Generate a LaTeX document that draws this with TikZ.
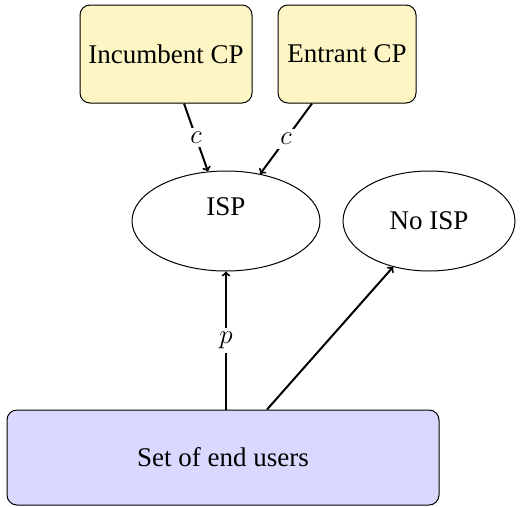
\RequirePackage{fix-cm}
\documentclass[tikz,border=0pt]{standalone}
\usepackage{fontspec}
\setmainfont{Liberation Serif}
\usetikzlibrary{shapes.geometric}
\definecolor{cpfill}{RGB}{253,246,196}
\definecolor{userfill}{RGB}{217,217,255}
\tikzset{
  cpbox/.style={draw, line width=1pt, fill=cpfill, rounded corners=10pt, inner sep=0pt, minimum height=98pt},
  userbox/.style={draw, line width=1pt, fill=userfill, rounded corners=10pt, inner sep=0pt, minimum width=432pt, minimum height=95pt},
  ell/.style={draw, line width=1pt, ellipse, inner sep=0pt},
  arr/.style={->, line width=2pt},
  lab/.style={fill=white, inner sep=4pt}
}
\begin{document}
\begin{tikzpicture}[x=1pt, y=-1pt, font=\fontsize{27}{32}\selectfont]
\useasboundingbox (0,0) rectangle (529,506);
\node[cpbox, minimum width=172pt] (inc) at (166,54) {Incumbent CP};
\node[cpbox, minimum width=138pt] (ent) at (347,54) {Entrant CP};
\node[ell, minimum width=188pt, minimum height=100pt, label={[yshift=14pt]center:ISP}] (isp) at (226,221) {};
\node[ell, minimum width=172pt, minimum height=100pt] (noisp) at (429,221) {No ISP};
\node[userbox] (users) at (223,457.5) {Set of end users};
\draw[arr] ([xshift=18pt]inc.south) -- node[lab] {$c$} (isp.110);
\draw[arr] ([xshift=-35pt]ent.south) -- node[lab] {$c$} (isp.54);
\draw[arr] ([xshift=3pt]users.north) -- node[lab] {$p$} (isp.south);
\draw[arr] ([xshift=44pt]users.north) -- (noisp.232);
\end{tikzpicture}
\end{document}
